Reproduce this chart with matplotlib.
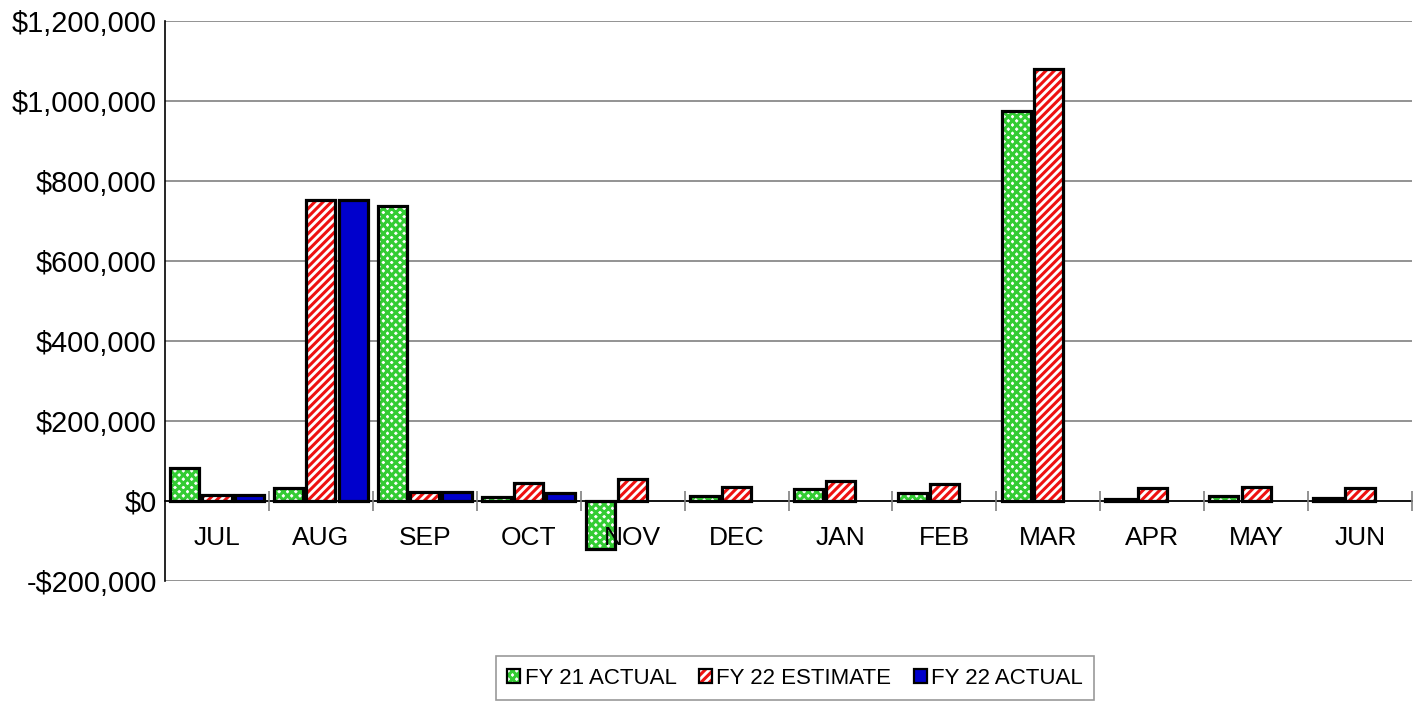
import numpy as np
import matplotlib
matplotlib.use("Agg")
import matplotlib.pyplot as plt
from matplotlib.patches import Patch
from matplotlib.legend_handler import HandlerTuple
from matplotlib.ticker import FuncFormatter, MultipleLocator, FixedLocator

plt.rcParams['font.family'] = ['Liberation Sans', 'DejaVu Sans']
plt.rcParams['hatch.linewidth'] = 2.2

months = ['JUL', 'AUG', 'SEP', 'OCT', 'NOV', 'DEC', 'JAN', 'FEB', 'MAR', 'APR', 'MAY', 'JUN']
fy21_actual = [82500, 33000, 737500, 11000, -120000, 13000, 31000, 20000, 975000, 5000, 12000, 8000]
fy22_estimate = [15000, 752500, 23000, 44000, 55000, 34000, 49000, 42000, 1080000, 32000, 35000, 33000]
fy22_actual = [15000, 752500, 23000, 19000, np.nan, np.nan, np.nan, np.nan, np.nan, np.nan, np.nan, np.nan]

series = [
    ('FY 21 ACTUAL', fy21_actual, 'white', '#33CC33', 'xxxx'),
    ('FY 22 ESTIMATE', fy22_estimate, 'white', '#EE1111', '////'),
    ('FY 22 ACTUAL', fy22_actual, '#0000CC', '#0000CC', None),
]

fig = plt.figure(figsize=(14.16, 7.01), dpi=100)
ax = fig.add_axes([165 / 1416, 1 - 581 / 701, (1412 - 165) / 1416, (581 - 21) / 701])

x = np.arange(len(months))
w = 0.28
handles = []
for i, (name, vals, fc, hc, hatch) in enumerate(series):
    pos = x + (i - 1) * 0.31
    ax.bar(pos, vals, w, color=fc, edgecolor=hc, hatch=hatch, linewidth=0, zorder=2)
    ax.bar(pos, vals, w, fill=False, edgecolor='black', linewidth=2.3, zorder=3)
    h1 = Patch(facecolor=fc, edgecolor=hc, hatch=hatch, linewidth=0)
    h2 = Patch(fill=False, edgecolor='black', linewidth=1.6)
    handles.append((h1, h2))

ax.set_xlim(-0.5, len(months) - 0.5)
ax.set_ylim(-200000, 1200000)
ax.yaxis.set_major_locator(MultipleLocator(200000))
ax.yaxis.set_major_formatter(FuncFormatter(lambda v, p: f"${v:,.0f}" if v >= 0 else f"-${-v:,.0f}"))
ax.grid(axis='y', color='#808080', linewidth=1.2)
ax.set_axisbelow(True)
ax.xaxis.set_zorder(5)

ax.spines['top'].set_visible(False)
ax.spines['right'].set_visible(False)
ax.spines['bottom'].set_position(('data', 0))
ax.spines['bottom'].set_linewidth(1.2)
ax.spines['left'].set_linewidth(1.2)

ax.set_xticks(x)
ax.set_xticklabels(months, fontsize=19)
ax.xaxis.set_minor_locator(FixedLocator(np.arange(0.5, len(months), 1.0)))
ax.tick_params(axis='x', which='major', length=0, pad=18)
ax.tick_params(axis='x', which='minor', direction='inout', length=15, color='#808080', width=1.2)
ax.tick_params(axis='y', length=0, labelsize=20.8, pad=6)

leg = fig.legend(handles, [s[0] for s in series], handler_map={tuple: HandlerTuple(ndivide=1)},
                 loc='center', bbox_to_anchor=(795 / 1416, 1 - 678 / 701), ncol=3,
                 fontsize=16, frameon=True, fancybox=False, edgecolor='#808080',
                 handlelength=0.6, handleheight=0.6, handletextpad=0.2, columnspacing=1.0,
                 borderpad=0.5, borderaxespad=0)
leg.get_frame().set_linewidth(1.2)

fig.savefig('out.png', dpi=100)
